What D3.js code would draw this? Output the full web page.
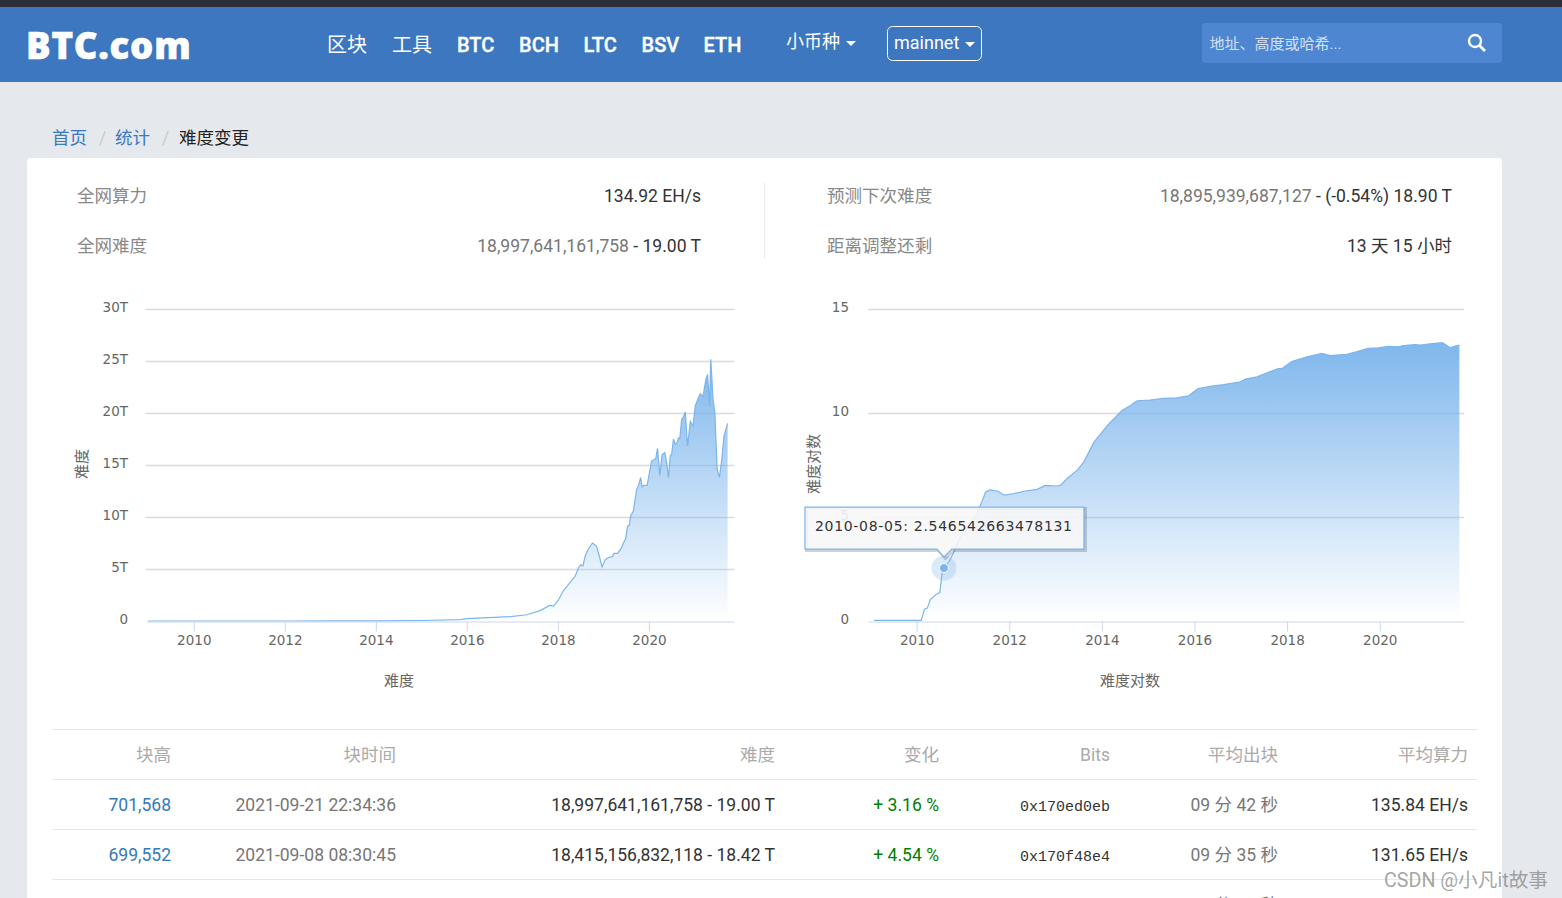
<!DOCTYPE html>
<html>
<head>
<meta charset="utf-8">
<script src="https://cdn.jsdelivr.net/npm/d3@7"></script>
<style>
html, body { margin: 0; padding: 0; background: #e5e8ed; overflow: hidden; }
svg { display: block; }
text { font-family: Roboto, "Noto Sans CJK SC", sans-serif; }
.chart text { font-family: "DejaVu Sans", "Noto Sans CJK SC", sans-serif; }
.chart .domain { stroke: #ccd6eb; }
.chart .x-axis line { stroke: #ccd6eb; }
.chart .grid line { stroke: #dadada; stroke-width: 1.6; }
.chart .grid .domain { display: none; }
</style>
</head>
<body>
<svg width="1562" height="898"></svg>
<script>
// left chart, difficulty in T
var diffYears = [2009.0, 2011, 2012, 2013, 2014, 2015, 2015.86, 2016, 2016.96, 2017.32, 2017.61, 2017.82, 2017.9, 2018.01, 2018.12, 2018.23, 2018.38, 2018.45, 2018.5, 2018.55, 2018.6, 2018.67, 2018.76, 2018.85, 2018.91, 2018.97, 2019.04, 2019.11, 2019.2, 2019.23, 2019.31, 2019.39, 2019.44, 2019.49, 2019.53, 2019.57, 2019.6, 2019.66, 2019.73, 2019.77, 2019.82, 2019.85, 2019.89, 2019.96, 2020.06, 2020.15, 2020.19, 2020.24, 2020.29, 2020.35, 2020.39, 2020.43, 2020.47, 2020.5, 2020.54, 2020.58, 2020.61, 2020.65, 2020.68, 2020.72, 2020.75, 2020.8, 2020.85, 2020.91, 2020.97, 2021.02, 2021.08, 2021.13, 2021.19, 2021.25, 2021.29, 2021.33, 2021.36, 2021.41, 2021.45, 2021.5, 2021.55, 2021.6, 2021.65, 2021.73];
var diffValues = [0, 0, 0.002, 0.004, 0.02, 0.05, 0.13, 0.22, 0.42, 0.6, 1.0, 1.5, 1.44, 2.0, 2.9, 3.5, 4.3, 5.1, 5.4, 5.3, 6.25, 6.95, 7.5, 7.2, 6.25, 5.2, 5.9, 6.1, 6.2, 6.5, 6.5, 6.95, 7.5, 7.9, 9.1, 9.2, 10.1, 10.6, 12.66, 13, 13.8, 12.9, 13.04, 13.04, 15.4, 15.6, 16.6, 14.0, 16.0, 16.2, 15.2, 13.8, 15.9, 16.0, 17.5, 17.0, 17.1, 17.6, 17.56, 19.4, 19.55, 20.1, 16.8, 19.2, 18.75, 20.7, 21.4, 21.86, 21.6, 23.2, 23.7, 20.67, 25.16, 21.3, 20.0, 14.6, 13.8, 15.5, 17.8, 19.0];

// right chart, log of difficulty
var logYears = [2009.08, 2010.1, 2010.17, 2010.23, 2010.3, 2010.34, 2010.41, 2010.5, 2010.55, 2010.59, 2010.7, 2010.81, 2010.95, 2011.17, 2011.31, 2011.42, 2011.49, 2011.58, 2011.74, 2011.9, 2012.1, 2012.35, 2012.6, 2012.78, 2013.04, 2013.11, 2013.25, 2013.47, 2013.61, 2013.83, 2014.12, 2014.44, 2014.61, 2014.76, 2015.04, 2015.33, 2015.62, 2015.87, 2016.08, 2016.34, 2016.63, 2016.99, 2017.1, 2017.35, 2017.57, 2017.81, 2017.89, 2018.1, 2018.43, 2018.75, 2018.93, 2019.29, 2019.51, 2019.75, 2019.97, 2020.16, 2020.4, 2020.51, 2020.77, 2020.87, 2021.09, 2021.35, 2021.41, 2021.52, 2021.63, 2021.72];
var logValues = [0.03, 0.03, 0.57, 0.62, 1.05, 1.1, 1.26, 1.37, 2.3, 2.5465, 2.86, 3.34, 4.06, 4.7, 5.18, 5.8, 6.2, 6.3, 6.25, 6.05, 6.13, 6.25, 6.33, 6.52, 6.49, 6.53, 6.85, 7.25, 7.65, 8.6, 9.4, 10.13, 10.35, 10.59, 10.62, 10.7, 10.73, 10.83, 11.18, 11.28, 11.36, 11.5, 11.63, 11.74, 11.93, 12.14, 12.14, 12.47, 12.7, 12.87, 12.76, 12.82, 12.95, 13.11, 13.13, 13.2, 13.18, 13.24, 13.29, 13.27, 13.33, 13.38, 13.3, 13.14, 13.22, 13.27];

var xTicks = [2010, 2012, 2014, 2016, 2018, 2020];
var diffTicks = [0, 5, 10, 15, 20, 25, 30];
var logTicks = [0, 5, 10, 15];

var navItems = ["区块", "工具", "BTC", "BCH", "LTC", "BSV", "ETH"];
var navLefts = [327, 392, 457, 519, 583.5, 641.5, 703.5];

var tableHeads = ["块高", "块时间", "难度", "变化", "Bits", "平均出块", "平均算力"];
var rowHeights = ["701,568", "699,552"];
var rowTimes = ["2021-09-21 22:34:36", "2021-09-08 08:30:45"];
var rowDiffs = ["18,997,641,161,758 - 19.00 T", "18,415,156,832,118 - 18.42 T"];
var rowChanges = ["+ 3.16 %", "+ 4.54 %"];
var rowBits = ["0x170ed0eb", "0x170f48e4"];
var rowBlockTimes = ["09 分 42 秒", "09 分 35 秒"];
var rowHashrates = ["135.84 EH/s", "131.65 EH/s"];
// third row is cut off by the window, only the tops of these glyphs show
var cutRowBlockTime = "09 分 20 秒";

var tooltipDate = "2010-08-05";
var tooltipValue = "2.546542663478131";
var tooltipYear = 2010.59;
var tooltipLog = 2.5465;

var columnRights = [171, 396, 775, 939, 1110, 1278, 1468];
var bodySize = 17.55;

var svg = d3.select("svg");
var defs = svg.append("defs");

function label(x, y, str, size, color, anchor) {
    return svg.append("text")
        .attr("x", x)
        .attr("y", y)
        .attr("font-size", size)
        .attr("fill", color)
        .attr("text-anchor", anchor || "start")
        .text(str);
}

function caret(x, y, color) {
    svg.append("path")
        .attr("d", "M" + x + " " + y + "h10l-5 5z")
        .attr("fill", color);
}

function drawHeader() {
    svg.append("rect").attr("width", 1562).attr("height", 7).attr("fill", "#2b2e38");
    svg.append("rect").attr("y", 7).attr("width", 1562).attr("height", 75).attr("fill", "#3c77c0");

    label(26, 59, "BTC.com", 36.5, "#fff")
        .style("font-family", "'Open Sans'")
        .attr("font-weight", 800)
        .attr("letter-spacing", 0.8)
        .attr("stroke", "#fff")
        .attr("stroke-width", 0.6);

    navItems.forEach(function (d, i) {
        var t = label(navLefts[i], 52, d, 20, "#fff").attr("font-weight", i > 1 ? 500 : 400);
        if (i > 1) t.attr("stroke", "#fff").attr("stroke-width", 0.35);
    });

    label(786, 48, "小币种", 18, "#fff");
    caret(846, 41, "#fff");

    svg.append("rect")
        .attr("x", 887.5).attr("y", 26.5)
        .attr("width", 94).attr("height", 34).attr("rx", 5)
        .attr("fill", "none").attr("stroke", "#fff");
    label(894, 49, "mainnet", 18, "#fff");
    caret(965, 42, "#fff");

    svg.append("rect")
        .attr("x", 1202).attr("y", 23)
        .attr("width", 300).attr("height", 40).attr("rx", 3)
        .attr("fill", "#4e86d2");
    label(1209.5, 49, "地址、高度或哈希...", 15, "#d5e1f3");
    svg.append("circle")
        .attr("cx", 1475).attr("cy", 41).attr("r", 6)
        .attr("fill", "none").attr("stroke", "#fff").attr("stroke-width", 2.4);
    svg.append("line")
        .attr("x1", 1479).attr("y1", 45).attr("x2", 1485).attr("y2", 51)
        .attr("stroke", "#fff").attr("stroke-width", 2.8);
}

function drawSummary() {
    label(52, 144, "首页", bodySize, "#3c77c0");
    label(99, 144, "/", bodySize, "#ccc");
    label(115, 144, "统计", bodySize, "#3c77c0");
    label(162, 144, "/", bodySize, "#ccc");
    label(179, 144, "难度变更", bodySize, "#222");

    svg.append("rect")
        .attr("x", 27).attr("y", 158)
        .attr("width", 1475).attr("height", 760).attr("rx", 4)
        .attr("fill", "#fff");

    label(77, 202, "全网算力", bodySize, "#888");
    label(77, 252, "全网难度", bodySize, "#888");
    label(827, 202, "预测下次难度", bodySize, "#888");
    label(827, 252, "距离调整还剩", bodySize, "#888");

    label(701, 202, "134.92 EH/s", bodySize, "#333", "end");

    var t = label(701, 252, "", bodySize, "#333", "end");
    t.append("tspan").attr("fill", "#777").text("18,997,641,161,758");
    t.append("tspan").text(" - 19.00 T");

    t = label(1452, 202, "", bodySize, "#333", "end");
    t.append("tspan").attr("fill", "#777").text("18,895,939,687,127");
    t.append("tspan").text(" - (-0.54%) 18.90 T");

    label(1452, 252, "13 天 15 小时", bodySize, "#333", "end");

    svg.append("line")
        .attr("x1", 764.5).attr("x2", 764.5).attr("y1", 183).attr("y2", 258)
        .attr("stroke", "#e8e8e8");
}

function drawChart(opts) {
    var x = d3.scaleLinear().domain(opts.xDomain).range(opts.xRange);
    var y = d3.scaleLinear().domain(opts.yDomain).range([621, opts.yTop]);
    var g = svg.append("g").attr("class", "chart");

    g.append("g")
        .attr("class", "grid")
        .attr("transform", "translate(" + opts.xRange[0] + ",0)")
        .call(d3.axisLeft(y).tickValues(opts.yTicks.slice(1))
            .tickSize(opts.xRange[0] - opts.xRange[1]).tickFormat(""));

    var gradId = "fill-" + opts.id;
    var grad = defs.append("linearGradient")
        .attr("id", gradId)
        .attr("x1", 0).attr("y1", 0).attr("x2", 0).attr("y2", 1);
    grad.append("stop").attr("offset", 0).attr("stop-color", "#7cb5ec").attr("stop-opacity", 0.98);
    grad.append("stop").attr("offset", 1).attr("stop-color", "#7cb5ec").attr("stop-opacity", 0);

    var points = d3.zip(opts.years, opts.values);

    g.append("path")
        .attr("d", d3.area()
            .x(function (d) { return x(d[0]); })
            .y0(y(0))
            .y1(function (d) { return y(d[1]); })(points))
        .attr("fill", "url(#" + gradId + ")");

    g.append("path")
        .attr("d", d3.line()
            .x(function (d) { return x(d[0]); })
            .y(function (d) { return y(d[1]); })(points))
        .attr("fill", "none")
        .attr("stroke", "#7cb5ec")
        .attr("stroke-width", 1.2);

    var xAxis = g.append("g")
        .attr("class", "x-axis")
        .attr("transform", "translate(0,621.5)")
        .call(d3.axisBottom(x).tickValues(xTicks).tickSize(10).tickSizeOuter(0).tickFormat(d3.format("d")));
    xAxis.selectAll("text")
        .attr("y", 19)
        .attr("dy", "0.32em")
        .attr("font-size", 13.5)
        .attr("fill", "#666");

    var yAxis = g.append("g")
        .attr("transform", "translate(" + opts.labelRight + ",2.5)")
        .call(d3.axisLeft(y).tickValues(opts.yTicks).tickSize(0).tickPadding(0).tickFormat(opts.format));
    yAxis.select(".domain").remove();
    yAxis.selectAll("text")
        .attr("dy", "0.02em")
        .attr("font-size", 13.5)
        .attr("fill", "#666");

    g.append("text")
        .attr("transform", "translate(" + opts.titleX + ",464) rotate(-90)")
        .attr("text-anchor", "middle")
        .attr("font-size", 15)
        .attr("fill", "#666")
        .text(opts.title);

    g.append("text")
        .attr("x", opts.bottomX).attr("y", 686)
        .attr("text-anchor", "middle")
        .attr("font-size", 15)
        .attr("fill", "#666")
        .text(opts.title);

    return { x: x, y: y, g: g };
}

function drawTooltip(chart) {
    var px = chart.x(tooltipYear);
    var py = chart.y(tooltipLog);
    var g = chart.g;

    g.append("circle").attr("cx", px).attr("cy", py).attr("r", 12.5)
        .attr("fill", "#7cb5ec").attr("fill-opacity", 0.28);
    g.append("circle").attr("cx", px).attr("cy", py).attr("r", 4.5)
        .attr("fill", "#7cb5ec").attr("stroke", "#fff");

    // box with the little pointer, placed from the marker
    var left = px - 139, right = px + 140, top = py - 61, bottom = py - 19, tip = py - 11;
    var shape = "M" + left + " " + top + "H" + right + "V" + bottom
        + "H" + (px + 8) + "L" + px + " " + tip + "L" + (px - 7) + " " + bottom
        + "H" + left + "Z";

    g.append("path")
        .attr("d", shape)
        .attr("transform", "translate(1.5,1.5)")
        .attr("fill", "none")
        .attr("stroke", "#000")
        .attr("stroke-opacity", 0.18)
        .attr("stroke-width", 3);
    g.append("path")
        .attr("d", shape)
        .attr("fill", "#f7f7f7")
        .attr("fill-opacity", 0.88)
        .attr("stroke", "#7cb5ec")
        .attr("stroke-width", 1.2)
        .attr("stroke-linejoin", "round");

    g.append("text")
        .attr("x", left + 10).attr("y", top + 24)
        .attr("font-size", 14)
        .attr("letter-spacing", 0.7)
        .attr("fill", "#333")
        .text(tooltipDate + ": " + tooltipValue);
}

function drawTable() {
    [729, 779, 829, 879].forEach(function (d) {
        svg.append("line")
            .attr("x1", 52).attr("x2", 1477).attr("y1", d + 0.5).attr("y2", d + 0.5)
            .attr("stroke", "#e7e7e7");
    });

    tableHeads.forEach(function (d, i) {
        label(columnRights[i], 761, d, bodySize, "#aaa", "end");
    });

    rowHeights.forEach(function (d, i) {
        var yy = 811 + i * 50;
        label(columnRights[0], yy, d, bodySize, "#337ab7", "end");
        label(columnRights[1], yy, rowTimes[i], bodySize, "#777", "end");
        label(columnRights[2], yy, rowDiffs[i], bodySize, "#333", "end");
        label(columnRights[3], yy, rowChanges[i], bodySize, "#008000", "end");
        label(columnRights[4], yy, rowBits[i], 15, "#333", "end").style("font-family", "'Liberation Mono'");
        label(columnRights[5], yy, rowBlockTimes[i], bodySize, "#777", "end");
        label(columnRights[6], yy, rowHashrates[i], bodySize, "#333", "end");
    });

    label(columnRights[5], 911, cutRowBlockTime, bodySize, "#777", "end");
}

drawHeader();
drawSummary();

drawChart({
    id: "diff",
    years: diffYears, values: diffValues,
    xDomain: [2008.95, 2021.87], xRange: [146, 734],
    yDomain: [0, 30], yTop: 309, yTicks: diffTicks,
    format: function (d) { return d === 0 ? "0" : d + "T"; },
    labelRight: 128, titleX: 87, bottomX: 399,
    title: "难度"
});

var logChart = drawChart({
    id: "log",
    years: logYears, values: logValues,
    xDomain: [2008.95, 2021.82], xRange: [868, 1464],
    yDomain: [0, 15], yTop: 309, yTicks: logTicks,
    format: d3.format("d"),
    labelRight: 849, titleX: 819, bottomX: 1130,
    title: "难度对数"
});

drawTable();
drawTooltip(logChart);

label(1384, 887, "CSDN @小凡it故事", 19.7, "#888").attr("fill-opacity", 0.75);
</script>
</body>
</html>
